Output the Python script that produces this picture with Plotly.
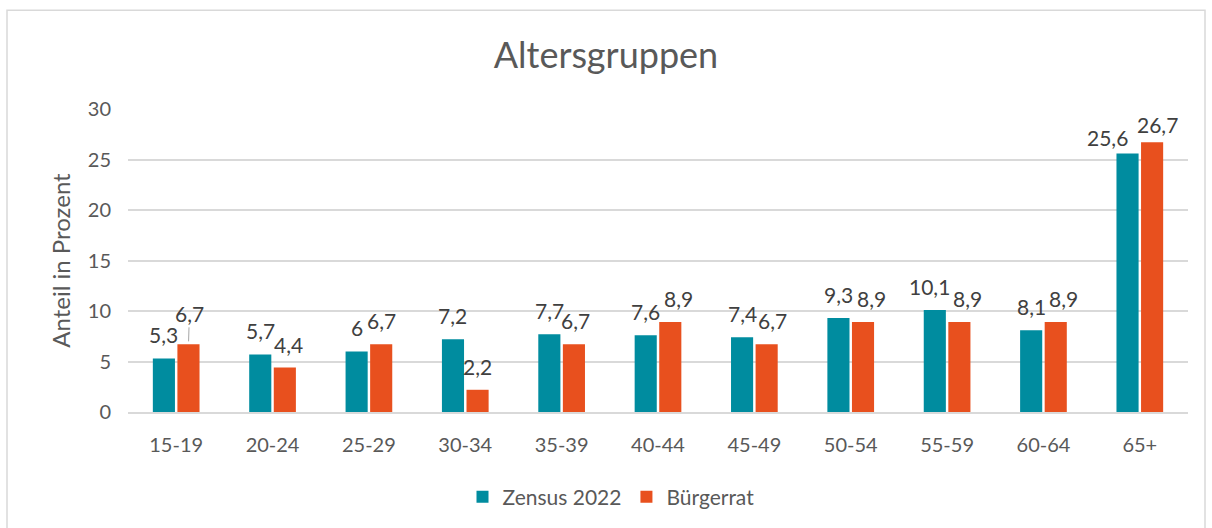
import plotly.graph_objects as go

# Data
AGE_GROUPS = ["15-19", "20-24", "25-29", "30-34", "35-39", "40-44",
              "45-49", "50-54", "55-59", "60-64", "65+"]
ZENSUS_2022 = [5.3, 5.7, 6, 7.2, 7.7, 7.6, 7.4, 9.3, 10.1, 8.1, 25.6]
BUERGERRAT = [6.7, 4.4, 6.7, 2.2, 6.7, 8.9, 6.7, 8.9, 8.9, 8.9, 26.7]

TEAL = "#008C9F"
ORANGE = "#E8501E"
TEXT_GRAY = "#595959"
LABEL_GRAY = "#404040"
GRID = "#D9D9D9"
FONT = "Lato, 'Open Sans', sans-serif"

W, H = 1212, 528
L, R, T, B = 128, 24, 109, 115
PW, PH = W - L - R, H - T - B
BARGAP = 0.49

# small label nudges (px) to keep neighbouring data labels apart, as in the original
NUDGE = {
    (1, "20-24"): (4, 0), (1, "35-39"): (2, 0), (1, "40-44"): (8, 0),
    (1, "45-49"): (6, 0), (1, "50-54"): (8, 0), (0, "55-59"): (-5, 0),
    (1, "55-59"): (8, 0), (1, "60-64"): (8, 0),
    (0, "65+"): (-20, -8), (1, "65+"): (5, -6),
}

fig = go.Figure()
series = [("Zensus 2022", ZENSUS_2022, TEAL), ("Bürgerrat", BUERGERRAT, ORANGE)]
for name, vals, color in series:
    fig.add_trace(go.Bar(
        x=AGE_GROUPS, y=vals, name=name,
        marker=dict(color=color, line=dict(width=0)),
        hoverinfo="x+y+name",
    ))

# data labels above each bar (centred over the bar, like Excel)
half = (PW / len(AGE_GROUPS)) * (1 - BARGAP) / 4
lbl_font = dict(family=FONT, size=21, color=LABEL_GRAY)
for i, (name, vals, color) in enumerate(series):
    sign = -1 if i == 0 else 1
    for cat, v in zip(AGE_GROUPS, vals):
        label = f"{v:g}".replace(".", ",")
        if cat == "15-19" and i == 1:
            # label pushed up with a leader line
            fig.add_annotation(x=cat, y=v, text=label, xshift=sign * half,
                               showarrow=True, arrowhead=0, arrowwidth=1,
                               arrowcolor="#A6A6A6", ax=1, ay=-31, standoff=3,
                               font=lbl_font)
            continue
        dx, dy = NUDGE.get((i, cat), (0, 0))
        fig.add_annotation(x=cat, y=v, text=label, xshift=sign * half + dx,
                           yshift=9 + dy, yanchor="bottom", showarrow=False,
                           font=lbl_font)

fig.update_layout(
    width=W, height=H,
    margin=dict(l=L, r=R, t=T, b=B),
    paper_bgcolor="white", plot_bgcolor="white",
    barmode="group", bargap=BARGAP, bargroupgap=0.1,
    font=dict(family=FONT, color=TEXT_GRAY),
    title=dict(text="Altersgruppen", x=0.5, xref="container", xanchor="center",
               y=1 - 55 / H, yref="container", yanchor="middle",
               font=dict(family=FONT, size=36, color=TEXT_GRAY)),
    legend=dict(orientation="h", x=(611 - L) / PW, xanchor="center",
                y=(413 - 497) / PH, yanchor="middle",
                font=dict(family=FONT, size=21, color=TEXT_GRAY),
                itemwidth=30, traceorder="normal"),
    showlegend=True,
)

fig.update_yaxes(
    range=[0, 30], dtick=5, showgrid=True, gridcolor=GRID, gridwidth=1.5,
    zeroline=False, showline=False,
    tickfont=dict(family=FONT, size=20, color=TEXT_GRAY),
    ticklabelstandoff=16,
    title=dict(text="Anteil in Prozent", standoff=10,
               font=dict(family=FONT, size=24, color=TEXT_GRAY)),
)
fig.update_xaxes(
    showline=True, linecolor=GRID, linewidth=1.5, showgrid=False,
    tickfont=dict(family=FONT, size=20, color=TEXT_GRAY),
    ticklabelstandoff=14,
)

# Chart area border
fig.add_shape(type="rect", xref="paper", yref="paper",
              x0=(7 - L) / PW, x1=(1205 - L) / PW,
              y0=(413 - 540) / PH, y1=(413 - 10) / PH,
              line=dict(color=GRID, width=1.5), fillcolor="rgba(0,0,0,0)",
              layer="below")

fig.write_html("out.html", config={"displayModeBar": False},
               post_script="document.body.style.margin='0';")
